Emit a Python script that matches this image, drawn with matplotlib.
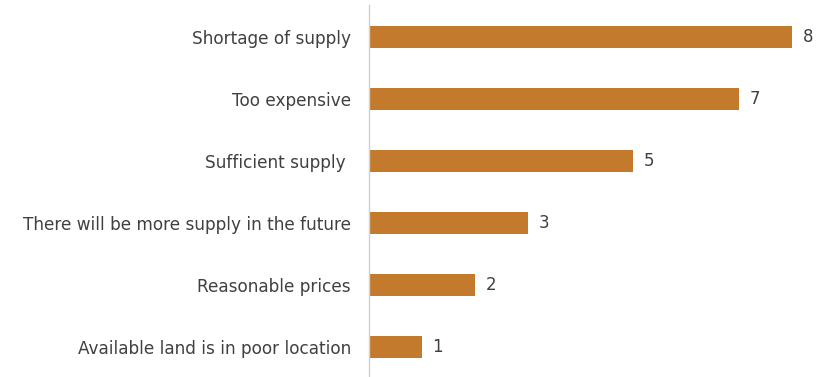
import matplotlib.pyplot as plt

# Survey responses, listed bottom to top
reasons = [
    "Available land is in poor location",
    "Reasonable prices",
    "There will be more supply in the future",
    "Sufficient supply ",
    "Too expensive",
    "Shortage of supply",
]
counts = [1, 2, 3, 5, 7, 8]

bar_color = "#C47A2C"
text_color = "#404040"

fig = plt.figure(figsize=(8.28, 3.77), dpi=100)
ax = fig.add_axes([369 / 828, 0.0, (792 - 369) / 828, 372 / 377])

pos = range(len(reasons))
ax.barh(pos, counts, height=0.36, color=bar_color)

for y, v in zip(pos, counts):
    ax.text(v + 0.2, y, str(v), va="center", ha="left",
            fontsize=12, color=text_color, family="DejaVu Sans")

ax.set_yticks(list(pos))
ax.set_yticklabels(reasons, fontsize=12.2, color=text_color, family="DejaVu Sans")
ax.tick_params(axis="y", length=0, pad=13)
ax.set_xticks([])
ax.set_xlim(0, 8)
ax.set_ylim(-0.48, 5.52)

for side in ["top", "right", "bottom"]:
    ax.spines[side].set_visible(False)
ax.spines["left"].set_color("#D0D0D0")
ax.spines["left"].set_linewidth(1)

fig.savefig("out.png", dpi=100)
